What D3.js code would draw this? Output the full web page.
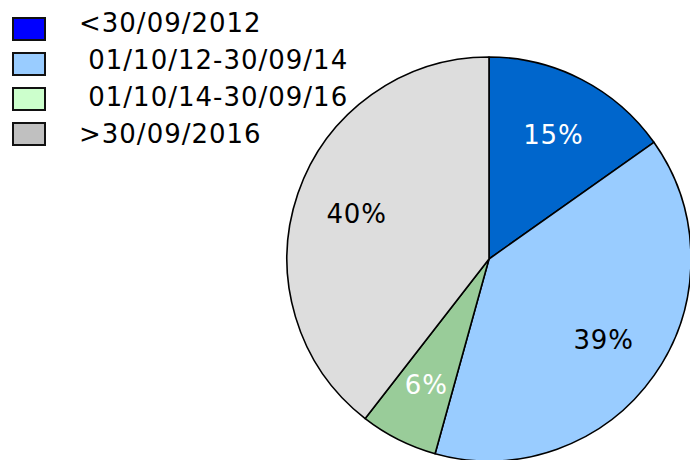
<!DOCTYPE html>
<html>
<head>
<meta charset="utf-8">
<script src="https://cdn.jsdelivr.net/npm/d3@7/dist/d3.min.js"></script>
<style>
  html, body { margin: 0; padding: 0; background: #fff; }
  svg { display: block; }
  text { font-family: "DejaVu Sans", Verdana, sans-serif; }
</style>
</head>
<body>
<svg id="chart" width="690" height="460"></svg>
<script>
const categories = ["<30/09/2012", " 01/10/12-30/09/14", " 01/10/14-30/09/16", ">30/09/2016"];
const values = [15.2, 39.1, 6.2, 39.5];
const sliceColors = ["#0066CC", "#99CCFF", "#99CC99", "#DDDDDD"];
const legendColors = ["#0000FF", "#99CCFF", "#CCFFCC", "#C0C0C0"];
const labelColors = ["#FFFFFF", "#000000", "#FFFFFF", "#000000"];

const svg = d3.select("#chart");
const cx = 489, cy = 259, R = 202;

const data = categories.map((c, i) => ({ cat: c, value: values[i], i }));
const pie = d3.pie().value(d => d.value).sort(null);
const arcs = pie(data);
const arc = d3.arc().innerRadius(0).outerRadius(R);
const labelArc = d3.arc().innerRadius(140).outerRadius(140);

const g = svg.append("g").attr("transform", `translate(${cx},${cy})`);
g.selectAll("path.slice").data(arcs).enter().append("path")
  .attr("class", "slice")
  .attr("d", arc)
  .attr("fill", d => sliceColors[d.data.i])
  .attr("stroke", "#000")
  .attr("stroke-width", 1.6)
  .attr("stroke-linejoin", "round");

const total = d3.sum(values);
g.selectAll("text.lbl").data(arcs).enter().append("text")
  .attr("class", "lbl")
  .attr("transform", d => `translate(${labelArc.centroid(d)})`)
  .attr("text-anchor", "middle")
  .attr("dy", "0.36em")
  .attr("font-size", 26)
  .attr("letter-spacing", 0.8)
  .attr("fill", d => labelColors[d.data.i])
  .text(d => Math.round(d.data.value / total * 100) + "%");

// Legend
const boxY = d3.scalePoint().domain(d3.range(categories.length)).range([18, 123]);
const textY = d3.scalePoint().domain(d3.range(categories.length)).range([32, 143]);
const leg = svg.append("g");
const items = leg.selectAll("g.item").data(data).enter().append("g").attr("class", "item");
items.append("rect")
  .attr("x", 13).attr("y", d => boxY(d.i))
  .attr("width", 32).attr("height", 22)
  .attr("fill", d => legendColors[d.i])
  .attr("stroke", "#111").attr("stroke-width", 2);
items.append("text")
  .attr("x", 79).attr("y", d => textY(d.i))
  .attr("font-size", 26)
  .attr("letter-spacing", 1)
  .style("white-space", "pre")
  .attr("fill", "#000")
  .text(d => d.cat);
</script>
</body>
</html>
